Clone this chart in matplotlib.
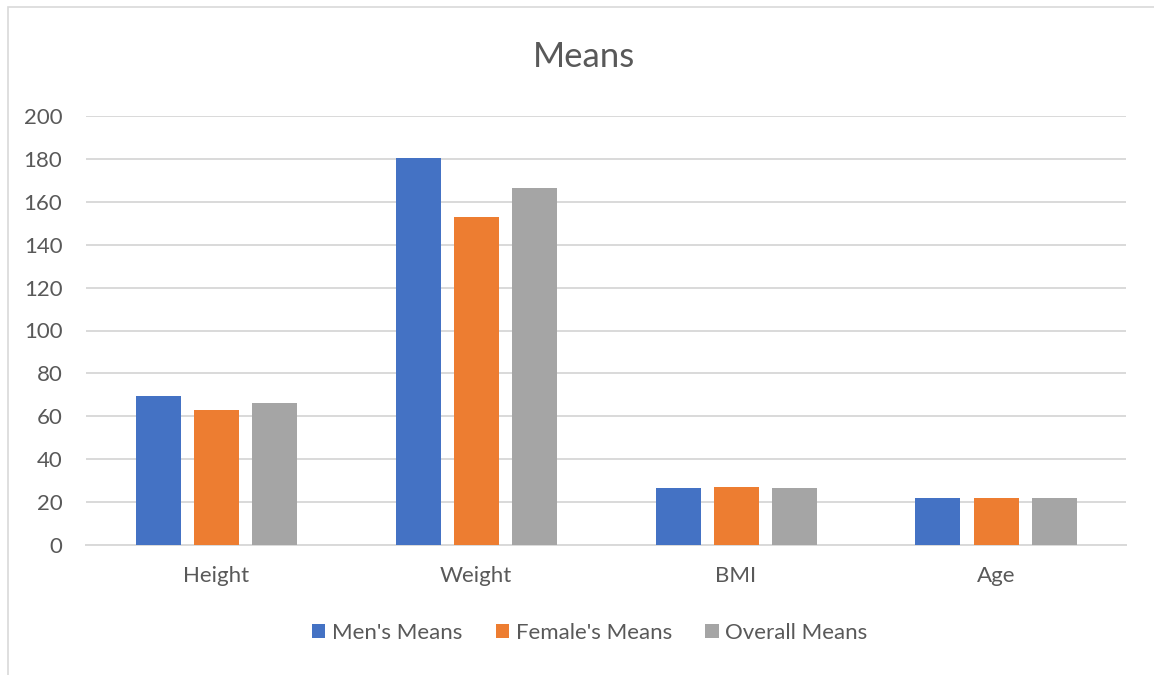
import matplotlib.pyplot as plt
import numpy as np
from matplotlib.patches import Rectangle

plt.rcParams['font.family'] = ['Lato', 'DejaVu Sans']

# data
categories = ['Height', 'Weight', 'BMI', 'Age']
mens_means = [69.5, 180.2, 26.6, 22.0]
female_means = [62.9, 152.7, 27.1, 22.0]
overall_means = [66.2, 166.3, 26.8, 22.0]
series_names = ["Men's Means", "Female's Means", "Overall Means"]
colors = ['#4472C4', '#ED7D31', '#A5A5A5']
text_color = '#595959'
grid_color = '#D9D9D9'

fig = plt.figure(figsize=(11.54, 6.75), dpi=100)
ax = fig.add_axes([86 / 1154, 130 / 675, 1040 / 1154, 429 / 675])

# chart outline
fig.patches.append(Rectangle((8 / 1154, -0.05), 1.1, 1.04, transform=fig.transFigure,
                             fill=False, edgecolor=grid_color, linewidth=1.2))

x = np.arange(len(categories))
width = 45 / 260
step = 58 / 260
for i, (vals, name, c) in enumerate(zip([mens_means, female_means, overall_means], series_names, colors)):
    ax.bar(x + (i - 1) * step, vals, width, color=c, label=name, zorder=3)

ax.set_xlim(-0.5, len(categories) - 0.5)
ax.set_ylim(0, 200)
ax.set_yticks(np.arange(0, 201, 20))
ax.set_xticks(x)
ax.set_xticklabels(categories)
ax.grid(axis='y', color=grid_color, linewidth=1.4, zorder=0)
ax.tick_params(axis='both', length=0, labelsize=16, colors=text_color)
ax.tick_params(axis='x', pad=15)
ax.tick_params(axis='y', pad=17)
for s in ['top', 'right', 'left']:
    ax.spines[s].set_visible(False)
ax.spines['bottom'].set_color(grid_color)
ax.spines['bottom'].set_linewidth(1.4)

fig.text(0.506, 1 - 57 / 675, 'Means', ha='center', va='center', fontsize=25, color=text_color)

leg = fig.legend(loc='center', bbox_to_anchor=(0.511, 1 - 633 / 675), ncol=3, frameon=False,
                 fontsize=16, handlelength=0.6, handleheight=0.6, handletextpad=0.3, columnspacing=1.5)
for t in leg.get_texts():
    t.set_color(text_color)

fig.savefig('out.png', dpi=100)
